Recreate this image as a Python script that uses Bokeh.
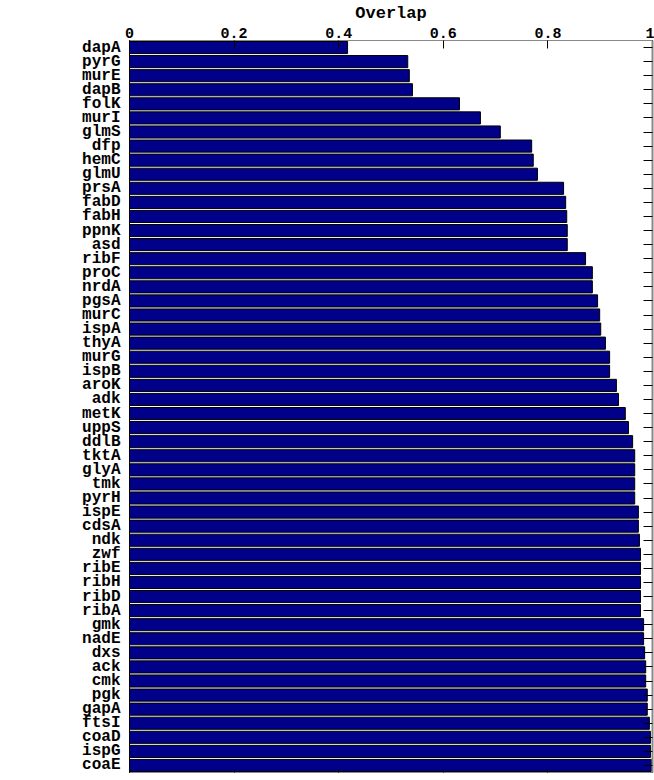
from bokeh.plotting import figure
from bokeh.models import LinearAxis, CategoricalAxis, FactorRange, Range1d, ColumnDataSource
from bokeh.embed import file_html
from bokeh.resources import INLINE

genes = ["dapA", "pyrG", "murE", "dapB", "folK", "murI", "glmS", "dfp", "hemC", "glmU",
         "prsA", "fabD", "fabH", "ppnK", "asd", "ribF", "proC", "nrdA", "pgsA", "murC",
         "ispA", "thyA", "murG", "ispB", "aroK", "adk", "metK", "uppS", "ddlB", "tktA",
         "glyA", "tmk", "pyrH", "ispE", "cdsA", "ndk", "zwf", "ribE", "ribH", "ribD",
         "ribA", "gmk", "nadE", "dxs", "ack", "cmk", "pgk", "gapA", "ftsI", "coaD",
         "ispG", "coaE"]
overlap = [0.417, 0.532, 0.535, 0.541, 0.631, 0.671, 0.709, 0.769, 0.772, 0.780,
           0.830, 0.834, 0.836, 0.837, 0.837, 0.872, 0.885, 0.885, 0.895, 0.899,
           0.901, 0.910, 0.918, 0.918, 0.931, 0.935, 0.948, 0.954, 0.962, 0.966,
           0.966, 0.966, 0.966, 0.973, 0.973, 0.975, 0.977, 0.977, 0.977, 0.977,
           0.977, 0.983, 0.983, 0.985, 0.987, 0.987, 0.990, 0.990, 0.994, 0.996,
           0.996, 0.998]
x_ticks = [0, 0.2, 0.4, 0.6, 0.8, 1]
tick_labels = {0: "0", 0.2: "0.2", 0.4: "0.4", 0.6: "0.6", 0.8: "0.8", 1: "1"}

FONT = "Liberation Mono"

src = ColumnDataSource(dict(gene=genes, val=overlap))

p = figure(width=654, height=780, output_backend="svg", toolbar_location=None,
           y_range=FactorRange(factors=list(reversed(genes)), range_padding=0),
           x_range=Range1d(0, 1), x_axis_location=None, y_axis_location=None,
           min_border_left=129, min_border_right=2, min_border_top=0, min_border_bottom=8)

p.hbar(y="gene", right="val", left=0, height=0.86, source=src,
       fill_color="#000088", line_color="black", line_width=1)

p.xgrid.visible = False
p.ygrid.visible = False
p.outline_line_color = "black"
p.background_fill_color = "white"

top = LinearAxis(axis_label="Overlap")
top.ticker = x_ticks
top.major_label_overrides = tick_labels
top.major_tick_in = 8
top.major_tick_out = 0
top.minor_tick_line_color = None
top.axis_line_color = "#888888"
top.major_tick_line_color = "black"
top.major_label_text_font = FONT
top.major_label_text_font_style = "bold"
top.major_label_text_font_size = "15px"
top.major_label_text_color = "black"
top.major_label_standoff = 3
top.axis_label_text_font = FONT
top.axis_label_text_font_style = "bold"
top.axis_label_text_font_size = "17px"
top.axis_label_text_color = "black"
top.axis_label_standoff = 2
p.add_layout(top, "above")

bottom = LinearAxis()
bottom.ticker = x_ticks
bottom.major_tick_in = 3
bottom.major_tick_out = 0
bottom.minor_tick_line_color = None
bottom.axis_line_color = "#888888"
bottom.major_label_text_font_size = "1px"
bottom.major_label_text_color = None
bottom.major_label_standoff = 0
p.add_layout(bottom, "below")

left = CategoricalAxis()
left.major_tick_line_color = None
left.axis_line_color = "black"
left.major_label_text_font = FONT
left.major_label_text_font_style = "bold"
left.major_label_text_font_size = "16px"
left.major_label_text_color = "black"
left.major_label_standoff = 3
p.add_layout(left, "left")

right = CategoricalAxis()
right.major_tick_in = 9
right.major_tick_out = 0
right.major_tick_line_color = "black"
right.axis_line_color = "#888888"
right.axis_line_width = 2
right.major_label_text_font_size = "1px"
right.major_label_text_color = None
right.major_label_standoff = 0
p.add_layout(right, "right")

open("out.html", "w").write(file_html(p, INLINE))
